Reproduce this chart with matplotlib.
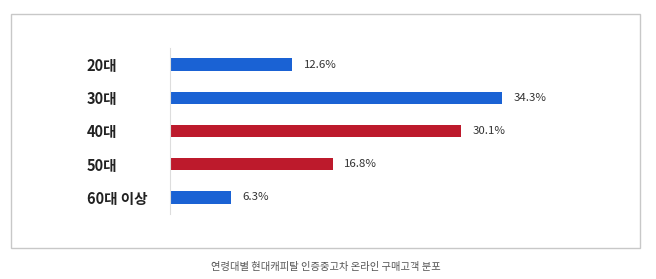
#! /usr/bin/env python

import matplotlib
matplotlib.use("Agg")
import matplotlib.pyplot as plt
from matplotlib.patches import Rectangle

plt.rcParams['font.family'] = ['Noto Sans CJK KR', 'DejaVu Sans']

categories = ["20대", "30대", "40대", "50대", "60대 이상"]
shares = [12.6, 34.3, 30.1, 16.8, 6.3]
value_labels = ["12.6%", "34.3%", "30.1%", "16.8%", "6.3%"]
bar_colors = ["#1a62d4", "#1a62d4", "#bd1a2c", "#bd1a2c", "#1a62d4"]
caption = "연령대별 현대캐피탈 인증중고차 온라인 구매고객 분포"

fig = plt.figure(figsize = (6.56, 2.79), dpi = 100)

# outer frame box
fig.patches.append(Rectangle((11 / 656, 1 - 248 / 279), 629 / 656, 234 / 279,
                             transform = fig.transFigure, fill = False,
                             edgecolor = "#c8c8c8", linewidth = 1.0))

ax = fig.add_axes([170 / 656, 65 / 279, 430 / 656, 166 / 279])
y = list(range(len(categories)))
ax.barh(y, shares, height = 0.37, color = bar_colors)
ax.set_xlim(0, 430 / 9.68)
ax.set_ylim(len(categories) - 0.5, -0.5)

for i, v in enumerate(shares):
    ax.text(v + 1.2, i, value_labels[i], va = 'center', ha = 'left',
            fontsize = 8.2, color = "#333333")

ax.set_yticks(y)
ax.set_yticklabels(categories, fontsize = 10.5, fontweight = 'bold', color = "#222222", ha = 'left')
ax.tick_params(axis = 'y', length = 0, pad = 60)
ax.set_xticks([])
for s in ["top", "right", "bottom"]:
    ax.spines[s].set_visible(False)
ax.spines["left"].set_color("#dddddd")
ax.spines["left"].set_linewidth(0.8)

fig.text(326 / 656, 1 - 267 / 279, caption, ha = 'center', va = 'center',
         fontsize = 7.4, color = "#555555")

plt.savefig("out.png", dpi = 100)
